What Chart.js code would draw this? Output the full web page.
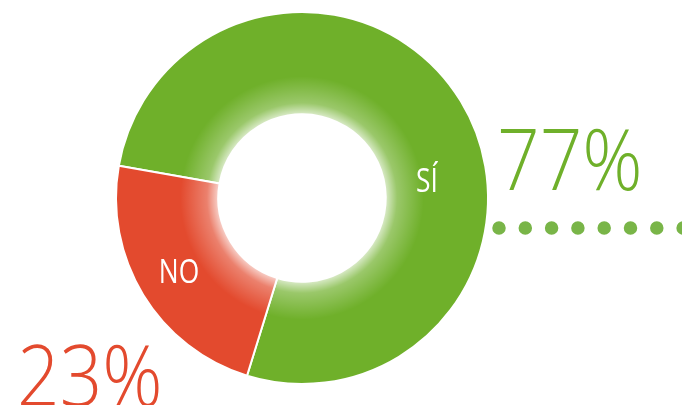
<!DOCTYPE html>
<html>
<head>
<meta charset="utf-8">
<script src="https://cdn.jsdelivr.net/npm/chart.js@4/dist/chart.umd.min.js"></script>
<style>
  html, body { margin: 0; padding: 0; background: #fff; }
  #wrap { width: 682px; height: 405px; position: relative; }
</style>
</head>
<body>
<div id="wrap"><canvas id="myChart" width="682" height="405"></canvas></div>
<script>
// data
var labels = ["SÍ", "NO"];
var values = [77, 23];
var colors = ["#6fb02a", "#e34a2e"];

var green = "#6fb02a";
var red = "#e34a2e";

// draw text squeezed horizontally (condensed look)
function narrowText(ctx, txt, x, y, sx, align){
    ctx.save();
    ctx.translate(x, y);
    ctx.scale(sx, 1);
    ctx.textAlign = align;
    ctx.fillText(txt, 0, 0);
    ctx.restore();
}

// glow + labels + big percentages
var decoPlugin = {
    id: "deco",
    afterDatasetsDraw: function(chart){
        var ctx = chart.ctx;
        var meta = chart.getDatasetMeta(0);
        var arc = meta.data[0];
        var cx = arc.x, cy = arc.y;
        var inner = arc.innerRadius, outer = arc.outerRadius;

        // soft white glow around the hole
        ctx.save();
        ctx.beginPath();
        ctx.arc(cx, cy, outer, 0, Math.PI * 2);
        ctx.arc(cx, cy, inner, 0, Math.PI * 2, true);
        ctx.clip();
        var g = ctx.createRadialGradient(cx, cy, inner, cx, cy, inner + 38);
        g.addColorStop(0, "rgba(255,255,255,0.75)");
        g.addColorStop(0.3, "rgba(255,255,255,0.3)");
        g.addColorStop(1, "rgba(255,255,255,0)");
        ctx.fillStyle = g;
        ctx.fillRect(cx - outer, cy - outer, outer * 2, outer * 2);
        ctx.restore();

        // slice labels
        ctx.save();
        ctx.fillStyle = "#fff";
        ctx.textBaseline = "alphabetic";
        ctx.font = "33px 'Open Sans', sans-serif";
        narrowText(ctx, labels[0], 427, 192, 0.8, "center");
        narrowText(ctx, labels[1], 179, 283, 0.8, "center");
        ctx.restore();

        // big percentages
        ctx.save();
        ctx.font = "300 84px 'Open Sans', sans-serif";
        ctx.fillStyle = green;
        narrowText(ctx, values[0] + "%", 497, 190, 0.89, "left");
        ctx.fillStyle = red;
        narrowText(ctx, values[1] + "%", 17, 406, 0.89, "left");
        ctx.restore();

        // dotted leader
        ctx.save();
        ctx.strokeStyle = "#79b548";
        ctx.lineWidth = 13.5;
        ctx.lineCap = "round";
        ctx.setLineDash([0, 26.3]);
        ctx.beginPath();
        ctx.moveTo(499, 228);
        ctx.lineTo(700, 228);
        ctx.stroke();
        ctx.restore();
    }
};

var myChart = document.getElementById("myChart").getContext("2d");
var chart = new Chart(myChart, {
    type: "doughnut",
    data: {
        labels: labels,
        datasets: [{
            data: values,
            backgroundColor: colors,
            borderColor: "#fff",
            borderWidth: 2
        }]
    },
    options: {
        responsive: false,
        animation: false,
        rotation: -80,
        cutout: "45%",
        layout: {
            padding: { left: 115, right: 193, top: 11, bottom: 20 }
        },
        plugins: {
            legend: { display: false },
            tooltip: { enabled: false }
        }
    },
    plugins: [decoPlugin]
});
</script>
</body>
</html>
